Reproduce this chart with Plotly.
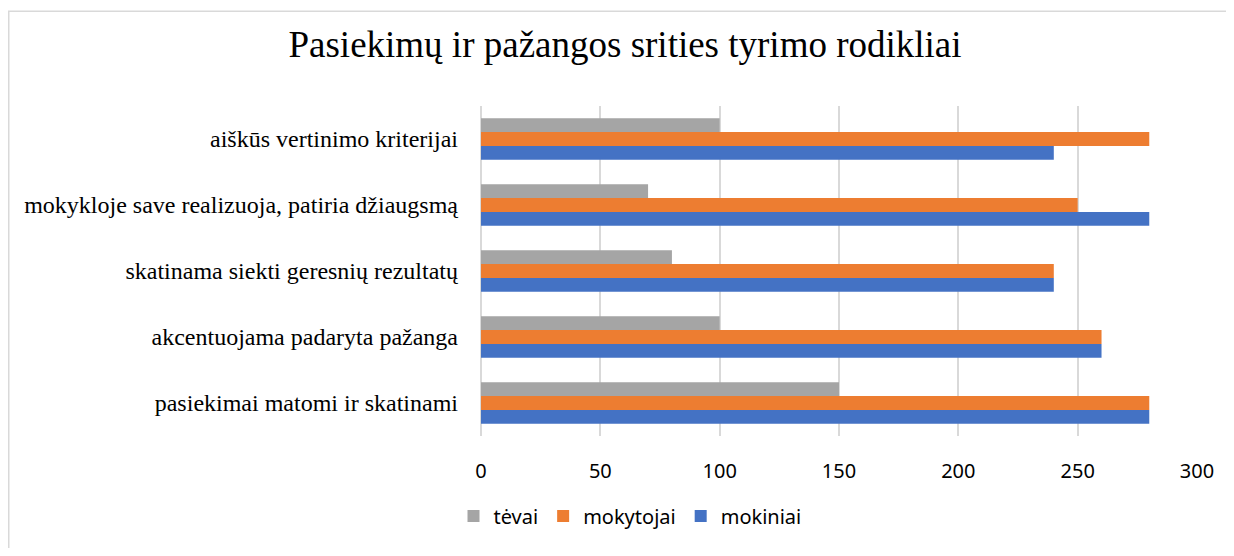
import plotly.graph_objects as go

# categories listed bottom -> top as they appear on the chart
categories = [
    'pasiekimai matomi ir skatinami',
    'akcentuojama padaryta pažanga',
    'skatinama siekti geresnių rezultatų',
    'mokykloje save realizuoja, patiria džiaugsmą',
    'aiškūs vertinimo kriterijai',
]
mokiniai = [280, 260, 240, 280, 240]
mokytojai = [280, 260, 240, 250, 280]
tevai = [150, 100, 80, 70, 100]

x_ticks = [0, 50, 100, 150, 200, 250, 300]

series = [
    ('mokiniai', mokiniai, '#4472C4'),
    ('mokytojai', mokytojai, '#ED7D31'),
    ('tėvai', tevai, '#A5A5A5'),
]

# the page body has an 8px margin, so the figure sits at (8, 8) in the window
OFF = 8
W, H = 1234 - 2 * OFF, 556 - 2 * OFF
L, R, T, B = 481 - OFF, W - (1197 - OFF), 106 - OFF, H - (440 - OFF)
pw, ph = W - L - R, H - T - B

def px_x(p):
    return (p - OFF - L) / pw

def px_y(p):
    return (H - B - (p - OFF)) / ph

fig = go.Figure()
for name, vals, col in series:
    fig.add_trace(go.Bar(y=categories, x=vals, name=name, orientation='h',
                         marker=dict(color=col, line=dict(width=0))))

fig.update_layout(
    width=W, height=H,
    margin=dict(l=L, r=R, t=T, b=B),
    barmode='group', bargap=0.37, bargroupgap=0,
    plot_bgcolor='white', paper_bgcolor='white',
    title=dict(text='Pasiekimų ir pažangos srities tyrimo rodikliai',
               x=(625 - OFF) / W, xanchor='center', xref='container',
               y=1 - (44 - OFF) / H, yanchor='middle', yref='container',
               font=dict(family='Liberation Serif', size=37, color='#000000')),
    legend=dict(orientation='h', traceorder='reversed',
                x=px_x(630), xanchor='center', y=px_y(521), yanchor='middle',
                font=dict(family='Noto Sans', size=20, color='#000000'),
                itemwidth=30),
    xaxis=dict(range=[0, 300], tickvals=x_ticks, showgrid=True,
               gridcolor='#d9d9d9', gridwidth=1.5, zeroline=True,
               zerolinecolor='#d9d9d9', zerolinewidth=1.5,
               tickfont=dict(family='Noto Sans', size=20, color='#000000'),
               ticks='', ticklabelstandoff=21, fixedrange=True),
    yaxis=dict(showgrid=False, zeroline=False, ticks='',
               tickfont=dict(family='Liberation Serif', size=24, color='#000000'),
               ticklabelstandoff=22, showline=False, automargin=False),
)

# outer chart frame
fig.add_shape(type='rect', xref='paper', yref='paper',
              x0=px_x(8.75), x1=px_x(1250), y0=px_y(570), y1=px_y(10),
              line=dict(color='#d9d9d9', width=1.5), fillcolor='rgba(0,0,0,0)',
              layer='below')

fig.write_html("out.html")
